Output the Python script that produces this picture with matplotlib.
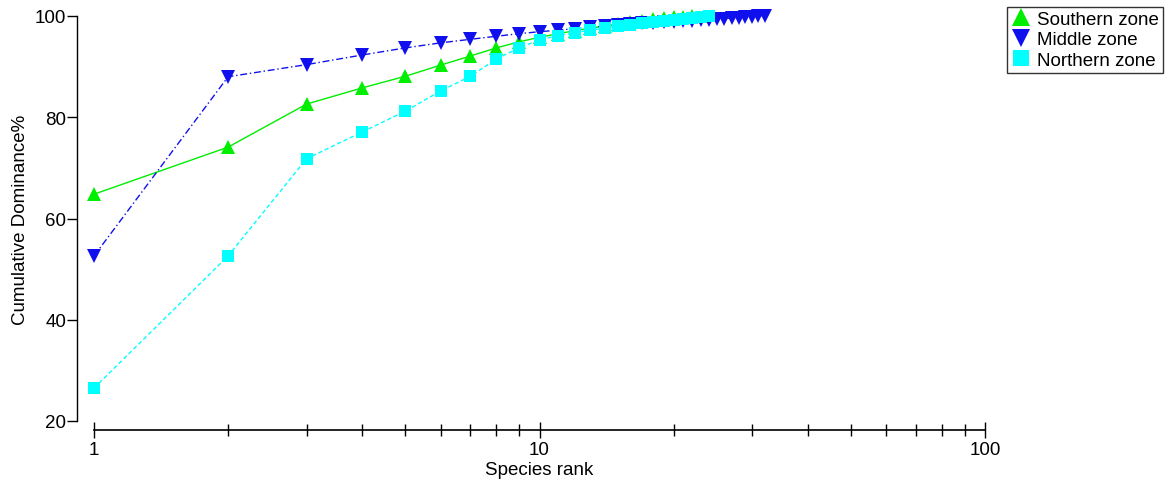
import matplotlib.pyplot as plt
from matplotlib.ticker import LogLocator, NullFormatter, FixedLocator

plt.rcParams['font.family'] = ['Liberation Sans', 'DejaVu Sans']

# 累积优势度曲线数据
southern = [64.8, 74.1, 82.6, 85.8, 88.1, 90.3, 92.1, 93.7, 94.9, 95.8, 96.5,
            97.1, 97.6, 98.0, 98.4, 98.8, 99.1, 99.4, 99.6, 99.8, 99.9, 100.0]
middle = [52.6, 88.0, 90.4, 92.3, 93.7, 94.7, 95.4, 96.0, 96.5, 96.9, 97.2,
          97.5, 97.8, 98.0, 98.2, 98.4, 98.6, 98.7, 98.8, 98.9, 99.0, 99.1,
          99.2, 99.3, 99.4, 99.5, 99.6, 99.7, 99.8, 99.9, 99.95, 100.0]
northern = [26.5, 52.6, 71.8, 77.1, 81.2, 85.2, 88.1, 91.5, 93.7, 95.3, 96.1,
            96.7, 97.2, 97.6, 98.0, 98.3, 98.6, 98.9, 99.1, 99.3, 99.5, 99.7,
            99.9, 100.0]
labels = ['Southern zone', 'Middle zone', 'Northern zone']

W, H = 1167, 485
fig = plt.figure(figsize=(W / 100, H / 100), dpi=100, facecolor='white')
ax = fig.add_axes([94 / W, (H - 422) / H, (985 - 94) / W, (422 - 17) / H])

ax.plot(range(1, len(southern) + 1), southern, color='#00ee00', lw=1,
        ls='-', marker='^', ms=10, mew=0, label=labels[0], zorder=3, clip_on=False)
ax.plot(range(1, len(middle) + 1), middle, color='#1010ee', lw=1,
        ls=(0, (5, 2, 1, 2)), marker='v', ms=10, mew=0, label=labels[1], zorder=4, clip_on=False)
ax.plot(range(1, len(northern) + 1), northern, color='#00ffff', lw=1,
        ls=(0, (3, 2)), marker='s', ms=9, mew=0, label=labels[2], zorder=5, clip_on=False)

ax.set_xscale('log')
ax.set_xlim(1, 100)
ax.set_ylim(20, 100)
ax.set_xticks([1, 10, 100])
ax.set_xticklabels(['1', '10', '100'])
ax.xaxis.set_minor_locator(LogLocator(base=10, subs=range(2, 10)))
ax.xaxis.set_minor_formatter(NullFormatter())
ax.yaxis.set_major_locator(FixedLocator([20, 40, 60, 80, 100]))

for s in ['top', 'right']:
    ax.spines[s].set_visible(False)
ax.spines['left'].set_position(('outward', 12))
ax.spines['bottom'].set_position(('outward', 6.5))
ax.spines['left'].set_linewidth(1)
ax.spines['bottom'].set_linewidth(1.2)

ax.tick_params(axis='x', which='major', direction='inout', length=12, width=1, labelsize=13.5, pad=2)
ax.tick_params(axis='x', which='minor', direction='inout', length=8, width=1)
ax.tick_params(axis='y', direction='out', length=7, width=1, labelsize=13.5, pad=1)

ax.set_xlabel('Species rank', fontsize=13.5, labelpad=2)
ax.set_ylabel('Cumulative Dominance%', fontsize=13.5, labelpad=4)

leg = ax.legend(loc='upper right', bbox_to_anchor=(1163 / W, 1 - 8 / H),
                bbox_transform=fig.transFigure, fontsize=13.5, frameon=True,
                fancybox=False, handlelength=1.0, handletextpad=0.4,
                borderpad=0.2, labelspacing=0.18, borderaxespad=0,
                markerscale=1.3)
leg.get_frame().set_edgecolor('black')
leg.get_frame().set_linewidth(1)
for h in leg.legend_handles:
    h.set_linestyle('none')

fig.savefig('out.png', dpi=100)
